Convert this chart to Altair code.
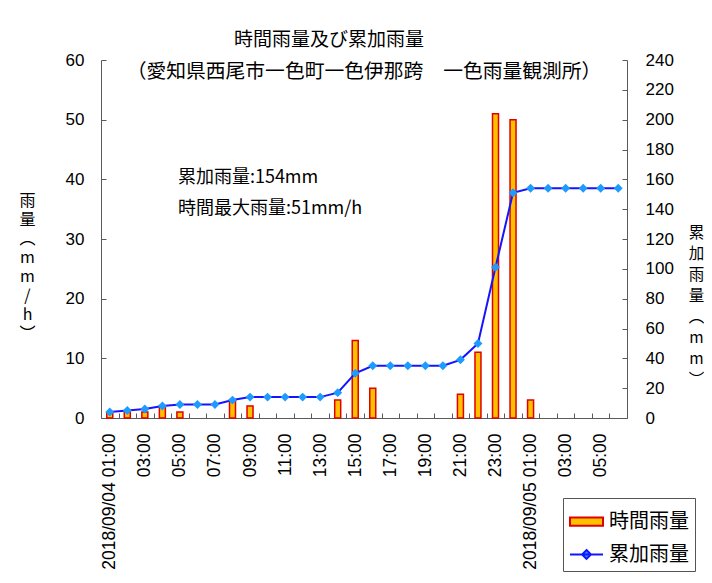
import json
import altair as alt
import pandas as pd

# ---- data ----
times = [
    "2018/09/04 01:00", "2018/09/04 02:00", "2018/09/04 03:00", "2018/09/04 04:00",
    "2018/09/04 05:00", "2018/09/04 06:00", "2018/09/04 07:00", "2018/09/04 08:00",
    "2018/09/04 09:00", "2018/09/04 10:00", "2018/09/04 11:00", "2018/09/04 12:00",
    "2018/09/04 13:00", "2018/09/04 14:00", "2018/09/04 15:00", "2018/09/04 16:00",
    "2018/09/04 17:00", "2018/09/04 18:00", "2018/09/04 19:00", "2018/09/04 20:00",
    "2018/09/04 21:00", "2018/09/04 22:00", "2018/09/04 23:00", "2018/09/05 00:00",
    "2018/09/05 01:00", "2018/09/05 02:00", "2018/09/05 03:00", "2018/09/05 04:00",
    "2018/09/05 05:00", "2018/09/05 06:00",
]
tick_labels = [
    "2018/09/04 01:00", "", "03:00", "", "05:00", "", "07:00", "", "09:00", "",
    "11:00", "", "13:00", "", "15:00", "", "17:00", "", "19:00", "",
    "21:00", "", "23:00", "", "2018/09/05 01:00", "", "03:00", "", "05:00", "",
]
hourly = [1, 1, 1, 2, 1, 0, 0, 3, 2, 0, 0, 0, 0, 3, 13, 5, 0, 0, 0, 0,
          4, 11, 51, 50, 3, 0, 0, 0, 0, 0]
cumulative = [4, 5, 6, 8, 9, 9, 9, 12, 14, 14, 14, 14, 14, 17, 30, 35, 35, 35, 35, 35,
              39, 50, 101, 151, 154, 154, 154, 154, 154, 154]
series_names = ["時間雨量", "累加雨量"]
annot_text = ["累加雨量:154mm", "時間最大雨量:51mm/h"]
annot_time = ["2018/09/04 05:00", "2018/09/04 05:00"]
annot_value = [40.3, 35.0]
left_ticks = [0, 10, 20, 30, 40, 50, 60]
right_ticks = [0, 20, 40, 60, 80, 100, 120, 140, 160, 180, 200, 220, 240]

CJK = "Noto Sans CJK JP"
NUM = "Liberation Sans"
AXIS_C = "#5a5a5a"
W, H = 526, 358

df = pd.DataFrame({"time": times, "hourly": hourly, "cumulative": cumulative})
ann = pd.DataFrame({"label": annot_text, "time": annot_time, "value": annot_value})
leg = pd.DataFrame({"series": series_names})

label_expr = "%s[indexof(%s, datum.value)]" % (
    json.dumps(tick_labels, ensure_ascii=False), json.dumps(times, ensure_ascii=False))

# short inside ticks are drawn as dashed grid lines (only one 5px dash per line)
x_axis = alt.Axis(
    title=None, labelExpr=label_expr, labelAngle=270, labelFont=NUM, labelFontSize=17.5,
    labelColor="black", labelPadding=15, labelOverlap=False, ticks=False, tickSize=0,
    domainColor=AXIS_C, domainWidth=1, grid=True, gridDash=[0, H - 5, 5, 2000],
    gridColor=AXIS_C, gridWidth=1, tickBand="extent",
)
x_scale = alt.Scale(domain=times, paddingInner=0, paddingOuter=0)
x_enc = alt.X("time:N", sort=times, scale=x_scale, axis=x_axis)

yl_axis = alt.Axis(
    title=["雨", "量", "︵", "m", "m", "/", "h", "︶"], titleAngle=0, titleFont=CJK,
    titleFontSize=16, titleFontWeight="normal", titleColor="black", titleLineHeight=19,
    titleX=-74, titleY=132, titleAlign="center", titleBaseline="top",
    values=left_ticks, labelFont=NUM, labelFontSize=17, labelColor="black", labelPadding=17,
    ticks=False, tickSize=0, domainColor=AXIS_C, grid=True, gridDash=[5, 2000],
    gridColor=AXIS_C, gridWidth=1,
)
yl_scale = alt.Scale(domain=[0, 60], nice=False)

yr_axis = alt.Axis(
    orient="right",
    title=["累", "加", "雨", "量", "︵", "m", "m", "︶"], titleAngle=0, titleFont=CJK,
    titleFontSize=15.5, titleFontWeight="normal", titleColor="black", titleLineHeight=21,
    titleX=69, titleY=165, titleAlign="center", titleBaseline="top",
    values=right_ticks, labelFont=NUM, labelFontSize=17, labelColor="black", labelPadding=18,
    ticks=False, tickSize=0, domainColor=AXIS_C, grid=True, gridDash=[5, 2000],
    gridColor=AXIS_C, gridWidth=1,
)
yr_scale = alt.Scale(domain=[0, 240], nice=False)

bars = alt.Chart(df).transform_filter("datum.hourly > 0").mark_bar(
    size=6, fill="#FFC000", stroke="#E00000", strokeWidth=1.5
).encode(x=x_enc, y=alt.Y("hourly:Q", scale=yl_scale, axis=yl_axis))

annot = alt.Chart(ann).mark_text(
    align="left", baseline="middle", font=CJK, fontSize=18, color="black", dx=-2
).encode(x=x_enc, y=alt.Y("value:Q", scale=yl_scale, axis=yl_axis), text="label:N")

RECT = "M-1,-0.25H1V0.25H-1Z"
LINE_DIAMOND = "M-1,0H1M0,-0.27L0.27,0L0,0.27L-0.27,0Z"
leg_obj = alt.Legend(
    title=None, orient="none", legendX=462, legendY=438, symbolSize=1089,
    symbolStrokeWidth=2, labelFont=CJK, labelFontSize=20, labelColor="black",
    strokeColor="#555555", fillColor="white", padding=6, rowPadding=5, labelOffset=5,
    direction="vertical",
)
legend_layer = alt.Chart(leg).transform_filter("false").mark_point(
    filled=True, opacity=1, strokeWidth=2
).encode(
    fill=alt.Fill("series:N", scale=alt.Scale(domain=series_names, range=["#FFC000", "#1E9BFF"]), legend=leg_obj),
    stroke=alt.Stroke("series:N", scale=alt.Scale(domain=series_names, range=["#E00000", "#1414FF"]), legend=leg_obj),
    shape=alt.Shape("series:N", scale=alt.Scale(domain=series_names, range=[RECT, LINE_DIAMOND]), legend=leg_obj),
)

line = alt.Chart(df).mark_line(color="#1414FF", strokeWidth=2).encode(
    x=x_enc, y=alt.Y("cumulative:Q", scale=yr_scale, axis=yr_axis))
points = alt.Chart(df).mark_point(
    shape="diamond", filled=True, size=80, color="#1E9BFF", opacity=1
).encode(x=x_enc, y=alt.Y("cumulative:Q", scale=yr_scale, axis=yr_axis))

left = alt.layer(bars, annot, legend_layer)
right = alt.layer(line, points)

chart = alt.layer(left, right).resolve_scale(y="independent").properties(
    width=W, height=H,
    autosize=alt.AutoSizeParams(type="none"),
    padding={"left": 93, "top": 52, "right": 77, "bottom": 157},
    title=alt.TitleParams(
        text="時間雨量及び累加雨量" + "\u2800" * 5,
        subtitle="（愛知県西尾市一色町一色伊那跨\u3000一色雨量観測所）",
        font=CJK, fontSize=19, fontWeight="normal", color="black",
        subtitleFont=CJK, subtitleFontSize=19.8, subtitleColor="black",
        subtitlePadding=12, anchor="middle", frame="group", offset=-31,
    ),
).configure_view(stroke=None)

chart.save("out.html", embed_options={"renderer": "svg", "actions": False})
